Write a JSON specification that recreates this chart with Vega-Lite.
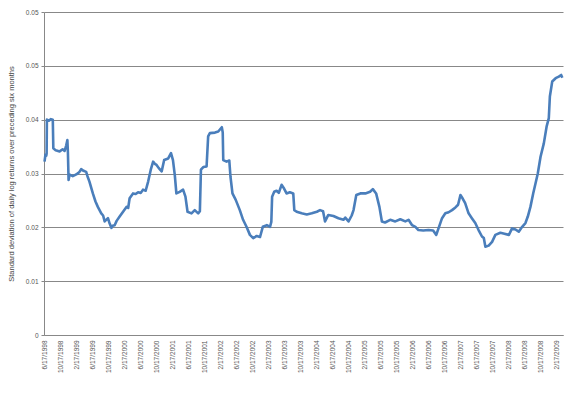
{
  "$schema": "https://vega.github.io/schema/vega-lite/v6.json",
  "width": 519,
  "height": 323,
  "autosize": "none",
  "padding": {"left": 44, "top": 12, "right": 7, "bottom": 59},
  "background": "white",
  "config": {"view": {"stroke": null}, "font": "Liberation Sans"},
  "data": {"values": [
    {"date": "1998-06-17", "sd": 0.0322},
    {"date": "1998-06-24", "sd": 0.0335},
    {"date": "1998-06-30", "sd": 0.0333},
    {"date": "1998-07-03", "sd": 0.0337},
    {"date": "1998-07-05", "sd": 0.0400},
    {"date": "1998-07-20", "sd": 0.0398},
    {"date": "1998-08-05", "sd": 0.0401},
    {"date": "1998-08-19", "sd": 0.0400},
    {"date": "1998-08-23", "sd": 0.0347},
    {"date": "1998-09-10", "sd": 0.0343},
    {"date": "1998-10-10", "sd": 0.0341},
    {"date": "1998-11-02", "sd": 0.0345},
    {"date": "1998-11-17", "sd": 0.0342},
    {"date": "1998-11-29", "sd": 0.0352},
    {"date": "1998-12-08", "sd": 0.0362},
    {"date": "1998-12-12", "sd": 0.0340},
    {"date": "1998-12-17", "sd": 0.0288},
    {"date": "1998-12-25", "sd": 0.0298},
    {"date": "1999-01-18", "sd": 0.0295},
    {"date": "1999-02-10", "sd": 0.0298},
    {"date": "1999-02-25", "sd": 0.0300},
    {"date": "1999-03-10", "sd": 0.0303},
    {"date": "1999-03-23", "sd": 0.0308},
    {"date": "1999-04-10", "sd": 0.0305},
    {"date": "1999-04-30", "sd": 0.0303},
    {"date": "1999-05-10", "sd": 0.0295},
    {"date": "1999-05-25", "sd": 0.0285},
    {"date": "1999-06-20", "sd": 0.0263},
    {"date": "1999-07-10", "sd": 0.0248},
    {"date": "1999-07-28", "sd": 0.0238},
    {"date": "1999-08-23", "sd": 0.0226},
    {"date": "1999-09-06", "sd": 0.0222},
    {"date": "1999-09-18", "sd": 0.0211},
    {"date": "1999-10-13", "sd": 0.0217},
    {"date": "1999-10-26", "sd": 0.0207},
    {"date": "1999-11-09", "sd": 0.0199},
    {"date": "1999-11-18", "sd": 0.0203},
    {"date": "1999-12-03", "sd": 0.0204},
    {"date": "1999-12-18", "sd": 0.0212},
    {"date": "2000-01-10", "sd": 0.0220},
    {"date": "2000-02-05", "sd": 0.0229},
    {"date": "2000-03-02", "sd": 0.0238},
    {"date": "2000-03-15", "sd": 0.0236},
    {"date": "2000-03-26", "sd": 0.0254},
    {"date": "2000-04-21", "sd": 0.0263},
    {"date": "2000-05-11", "sd": 0.0262},
    {"date": "2000-05-29", "sd": 0.0265},
    {"date": "2000-06-19", "sd": 0.0264},
    {"date": "2000-07-06", "sd": 0.0270},
    {"date": "2000-07-26", "sd": 0.0268},
    {"date": "2000-08-14", "sd": 0.0285},
    {"date": "2000-09-03", "sd": 0.0307},
    {"date": "2000-09-21", "sd": 0.0322},
    {"date": "2000-10-04", "sd": 0.0318},
    {"date": "2000-10-17", "sd": 0.0316},
    {"date": "2000-11-03", "sd": 0.0310},
    {"date": "2000-11-25", "sd": 0.0304},
    {"date": "2000-12-14", "sd": 0.0325},
    {"date": "2001-01-14", "sd": 0.0328},
    {"date": "2001-02-04", "sd": 0.0338},
    {"date": "2001-02-19", "sd": 0.0325},
    {"date": "2001-03-05", "sd": 0.0297},
    {"date": "2001-03-17", "sd": 0.0263},
    {"date": "2001-04-11", "sd": 0.0266},
    {"date": "2001-05-07", "sd": 0.0270},
    {"date": "2001-05-25", "sd": 0.0257},
    {"date": "2001-06-10", "sd": 0.0229},
    {"date": "2001-07-10", "sd": 0.0226},
    {"date": "2001-08-04", "sd": 0.0232},
    {"date": "2001-08-30", "sd": 0.0226},
    {"date": "2001-09-12", "sd": 0.0230},
    {"date": "2001-09-20", "sd": 0.0307},
    {"date": "2001-10-08", "sd": 0.0312},
    {"date": "2001-11-02", "sd": 0.0313},
    {"date": "2001-11-14", "sd": 0.0369},
    {"date": "2001-11-27", "sd": 0.0375},
    {"date": "2002-01-05", "sd": 0.0376},
    {"date": "2002-01-30", "sd": 0.0378},
    {"date": "2002-02-26", "sd": 0.0386},
    {"date": "2002-03-05", "sd": 0.0376},
    {"date": "2002-03-09", "sd": 0.0325},
    {"date": "2002-04-03", "sd": 0.0322},
    {"date": "2002-04-24", "sd": 0.0324},
    {"date": "2002-05-03", "sd": 0.0294},
    {"date": "2002-05-18", "sd": 0.0263},
    {"date": "2002-06-12", "sd": 0.0251},
    {"date": "2002-07-13", "sd": 0.0232},
    {"date": "2002-08-07", "sd": 0.0214},
    {"date": "2002-09-02", "sd": 0.0201},
    {"date": "2002-09-28", "sd": 0.0186},
    {"date": "2002-10-23", "sd": 0.0180},
    {"date": "2002-11-19", "sd": 0.0184},
    {"date": "2002-12-14", "sd": 0.0182},
    {"date": "2003-01-04", "sd": 0.0201},
    {"date": "2003-02-04", "sd": 0.0204},
    {"date": "2003-02-28", "sd": 0.0201},
    {"date": "2003-03-10", "sd": 0.0210},
    {"date": "2003-03-16", "sd": 0.0257},
    {"date": "2003-04-01", "sd": 0.0266},
    {"date": "2003-04-19", "sd": 0.0268},
    {"date": "2003-05-06", "sd": 0.0264},
    {"date": "2003-05-27", "sd": 0.0279},
    {"date": "2003-06-15", "sd": 0.0272},
    {"date": "2003-07-04", "sd": 0.0263},
    {"date": "2003-07-29", "sd": 0.0265},
    {"date": "2003-08-24", "sd": 0.0263},
    {"date": "2003-09-01", "sd": 0.0232},
    {"date": "2003-09-19", "sd": 0.0229},
    {"date": "2003-10-27", "sd": 0.0226},
    {"date": "2003-12-05", "sd": 0.0224},
    {"date": "2004-01-12", "sd": 0.0226},
    {"date": "2004-02-20", "sd": 0.0229},
    {"date": "2004-03-15", "sd": 0.0232},
    {"date": "2004-04-07", "sd": 0.0230},
    {"date": "2004-04-22", "sd": 0.0211},
    {"date": "2004-05-17", "sd": 0.0223},
    {"date": "2004-06-25", "sd": 0.0221},
    {"date": "2004-08-02", "sd": 0.0217},
    {"date": "2004-09-10", "sd": 0.0214},
    {"date": "2004-09-23", "sd": 0.0218},
    {"date": "2004-10-18", "sd": 0.0211},
    {"date": "2004-11-11", "sd": 0.0222},
    {"date": "2004-11-25", "sd": 0.0232},
    {"date": "2004-12-16", "sd": 0.0260},
    {"date": "2005-01-16", "sd": 0.0263},
    {"date": "2005-02-23", "sd": 0.0263},
    {"date": "2005-03-31", "sd": 0.0266},
    {"date": "2005-04-21", "sd": 0.0271},
    {"date": "2005-05-16", "sd": 0.0263},
    {"date": "2005-06-10", "sd": 0.0238},
    {"date": "2005-06-29", "sd": 0.0211},
    {"date": "2005-07-23", "sd": 0.0209},
    {"date": "2005-08-31", "sd": 0.0214},
    {"date": "2005-10-09", "sd": 0.0211},
    {"date": "2005-11-16", "sd": 0.0215},
    {"date": "2005-12-24", "sd": 0.0211},
    {"date": "2006-01-18", "sd": 0.0214},
    {"date": "2006-02-14", "sd": 0.0204},
    {"date": "2006-03-11", "sd": 0.0201},
    {"date": "2006-04-03", "sd": 0.0195},
    {"date": "2006-05-10", "sd": 0.0194},
    {"date": "2006-06-19", "sd": 0.0195},
    {"date": "2006-07-24", "sd": 0.0194},
    {"date": "2006-08-17", "sd": 0.0186},
    {"date": "2006-09-03", "sd": 0.0198},
    {"date": "2006-09-30", "sd": 0.0217},
    {"date": "2006-10-25", "sd": 0.0226},
    {"date": "2006-11-19", "sd": 0.0228},
    {"date": "2006-12-15", "sd": 0.0232},
    {"date": "2007-01-10", "sd": 0.0237},
    {"date": "2007-01-30", "sd": 0.0242},
    {"date": "2007-02-17", "sd": 0.0260},
    {"date": "2007-03-05", "sd": 0.0254},
    {"date": "2007-03-25", "sd": 0.0245},
    {"date": "2007-04-20", "sd": 0.0226},
    {"date": "2007-05-15", "sd": 0.0217},
    {"date": "2007-06-10", "sd": 0.0208},
    {"date": "2007-07-05", "sd": 0.0195},
    {"date": "2007-07-31", "sd": 0.0183},
    {"date": "2007-08-14", "sd": 0.0180},
    {"date": "2007-08-26", "sd": 0.0164},
    {"date": "2007-09-20", "sd": 0.0166},
    {"date": "2007-10-16", "sd": 0.0173},
    {"date": "2007-11-10", "sd": 0.0186},
    {"date": "2007-12-18", "sd": 0.0190},
    {"date": "2008-01-18", "sd": 0.0188},
    {"date": "2008-02-21", "sd": 0.0186},
    {"date": "2008-03-16", "sd": 0.0198},
    {"date": "2008-04-11", "sd": 0.0196},
    {"date": "2008-05-06", "sd": 0.0192},
    {"date": "2008-06-01", "sd": 0.0201},
    {"date": "2008-06-26", "sd": 0.0208},
    {"date": "2008-07-14", "sd": 0.0220},
    {"date": "2008-08-03", "sd": 0.0238},
    {"date": "2008-08-24", "sd": 0.0263},
    {"date": "2008-09-11", "sd": 0.0282},
    {"date": "2008-09-28", "sd": 0.0300},
    {"date": "2008-10-19", "sd": 0.0331},
    {"date": "2008-11-13", "sd": 0.0356},
    {"date": "2008-12-04", "sd": 0.0387},
    {"date": "2008-12-21", "sd": 0.0403},
    {"date": "2008-12-29", "sd": 0.0443},
    {"date": "2009-01-16", "sd": 0.0471},
    {"date": "2009-02-11", "sd": 0.0477},
    {"date": "2009-03-07", "sd": 0.0480},
    {"date": "2009-03-25", "sd": 0.0483},
    {"date": "2009-04-03", "sd": 0.0478}
  ]},
  "mark": {"type": "line", "color": "#4A7EBB", "strokeWidth": 2.6, "strokeJoin": "round"},
  "encoding": {
    "x": {
      "field": "date", "type": "temporal",
      "scale": {"type": "utc", "domain": [{"year": 1998, "month": 6, "date": 13, "utc": true}, {"year": 2009, "month": 4, "date": 8, "utc": true}]},
      "axis": {
        "title": null,
        "labelExpr": "utcFormat(datum.value, '%-m/%-d/%Y')",
        "labelAngle": 270,
        "labelFontSize": 6.5,
        "labelColor": "#555555",
        "labelPadding": 5,
        "ticks": false,
        "grid": false,
        "domainColor": "#888888",
        "labelOverlap": false,
        "labelFlush": false,
        "values": [
          {"year": 1998, "month": 6, "date": 17, "utc": true},
          {"year": 1998, "month": 10, "date": 17, "utc": true},
          {"year": 1999, "month": 2, "date": 17, "utc": true},
          {"year": 1999, "month": 6, "date": 17, "utc": true},
          {"year": 1999, "month": 10, "date": 17, "utc": true},
          {"year": 2000, "month": 2, "date": 17, "utc": true},
          {"year": 2000, "month": 6, "date": 17, "utc": true},
          {"year": 2000, "month": 10, "date": 17, "utc": true},
          {"year": 2001, "month": 2, "date": 17, "utc": true},
          {"year": 2001, "month": 6, "date": 17, "utc": true},
          {"year": 2001, "month": 10, "date": 17, "utc": true},
          {"year": 2002, "month": 2, "date": 17, "utc": true},
          {"year": 2002, "month": 6, "date": 17, "utc": true},
          {"year": 2002, "month": 10, "date": 17, "utc": true},
          {"year": 2003, "month": 2, "date": 17, "utc": true},
          {"year": 2003, "month": 6, "date": 17, "utc": true},
          {"year": 2003, "month": 10, "date": 17, "utc": true},
          {"year": 2004, "month": 2, "date": 17, "utc": true},
          {"year": 2004, "month": 6, "date": 17, "utc": true},
          {"year": 2004, "month": 10, "date": 17, "utc": true},
          {"year": 2005, "month": 2, "date": 17, "utc": true},
          {"year": 2005, "month": 6, "date": 17, "utc": true},
          {"year": 2005, "month": 10, "date": 17, "utc": true},
          {"year": 2006, "month": 2, "date": 17, "utc": true},
          {"year": 2006, "month": 6, "date": 17, "utc": true},
          {"year": 2006, "month": 10, "date": 17, "utc": true},
          {"year": 2007, "month": 2, "date": 17, "utc": true},
          {"year": 2007, "month": 6, "date": 17, "utc": true},
          {"year": 2007, "month": 10, "date": 17, "utc": true},
          {"year": 2008, "month": 2, "date": 17, "utc": true},
          {"year": 2008, "month": 6, "date": 17, "utc": true},
          {"year": 2008, "month": 10, "date": 17, "utc": true},
          {"year": 2009, "month": 2, "date": 17, "utc": true}
        ]
      }
    },
    "y": {
      "field": "sd", "type": "quantitative",
      "scale": {"domain": [0, 0.06], "nice": false},
      "axis": {
        "title": "Standard deviation of daily log returns over preceding six months",
        "titleFontSize": 7.5,
        "titleFontWeight": "normal",
        "titleColor": "#444444",
        "titlePadding": 10,
        "values": [0, 0.01, 0.02, 0.03, 0.04, 0.05, 0.06],
        "labelExpr": "datum.value == 0 ? '0' : (datum.value > 0.055 ? '0.05' : format(datum.value, '.2f'))",
        "labelFontSize": 6.5,
        "labelColor": "#555555",
        "labelPadding": 3,
        "tickSize": 3,
        "tickColor": "#888888",
        "domainColor": "#888888",
        "gridColor": "#888888",
        "gridWidth": 1,
        "gridOpacity": 1
      }
    }
  }
}
